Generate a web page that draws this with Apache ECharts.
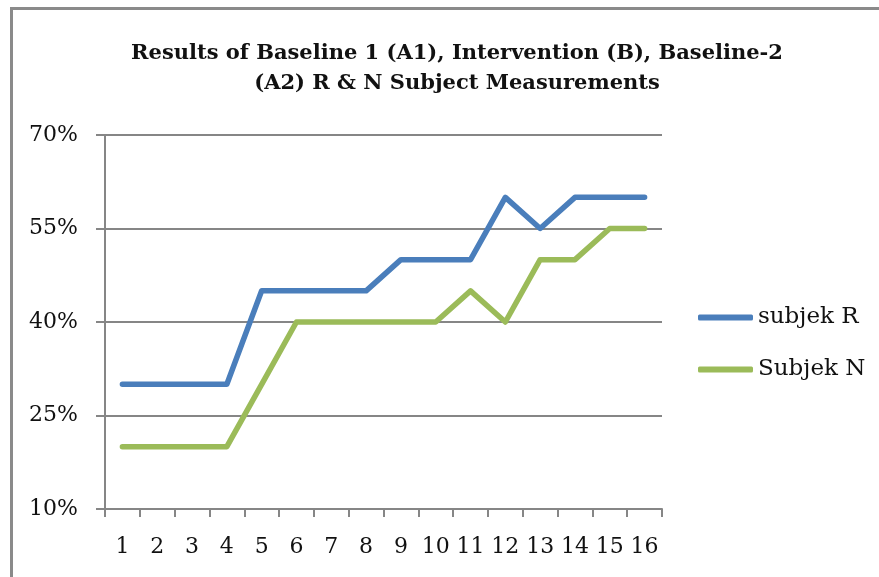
<!DOCTYPE html>
<html>
<head>
<meta charset="utf-8">
<script src="https://cdn.jsdelivr.net/npm/echarts@6/dist/echarts.min.js"></script>
<style>
  html, body { margin: 0; padding: 0; background: #fff; }
  #chart { width: 879px; height: 577px; }
</style>
</head>
<body>
<div id="chart"></div>
<script>
const titleText = 'Results of Baseline 1 (A1), Intervention (B), Baseline-2\n(A2) R & N Subject Measurements';
const categories = ['1','2','3','4','5','6','7','8','9','10','11','12','13','14','15','16'];
const seriesNames = ['subjek R', 'Subjek N'];
const subjekR = [30,30,30,30,45,45,45,45,50,50,50,60,55,60,60,60];
const subjekN = [20,20,20,20,30,40,40,40,40,40,45,40,50,50,55,55];
const yTicks = [10, 25, 40, 55, 70];

const FONT = 'DejaVu Serif';
const chart = echarts.init(document.getElementById('chart'), null, { renderer: 'canvas' });
chart.setOption({
  animation: false,
  backgroundColor: '#fff',
  graphic: [{
    type: 'rect',
    shape: { x: 11.5, y: 8.5, width: 900, height: 600 },
    style: { fill: 'none', stroke: '#8a8a8a', lineWidth: 3 },
    silent: true
  }],
  title: {
    text: titleText,
    left: 452,
    textAlign: 'center',
    top: 34,
    textStyle: { fontFamily: FONT, fontWeight: 'bold', fontSize: 21, lineHeight: 30, color: '#111' }
  },
  legend: {
    orient: 'vertical',
    left: 693,
    top: 301,
    itemWidth: 55,
    itemHeight: 6,
    itemGap: 29,
    icon: 'roundRect',
    textStyle: { fontFamily: FONT, fontSize: 23, color: '#111' },
    data: seriesNames
  },
  grid: { left: 105, right: 217, top: 135, bottom: 68, containLabel: false },
  xAxis: {
    type: 'category',
    data: categories,
    boundaryGap: true,
    axisLine: { lineStyle: { color: '#868686', width: 2 } },
    axisTick: { show: true, length: 8, lineStyle: { color: '#868686', width: 2 } },
    axisLabel: { margin: 27, fontFamily: FONT, fontSize: 22, color: '#111', interval: 0 },
    splitLine: { show: false }
  },
  yAxis: {
    type: 'value',
    min: yTicks[0],
    max: yTicks[yTicks.length - 1],
    interval: 15,
    axisLine: { show: true, lineStyle: { color: '#868686', width: 2 } },
    axisTick: { show: true, length: 9, lineStyle: { color: '#868686', width: 2 } },
    axisLabel: { margin: 27, fontFamily: FONT, fontSize: 22, color: '#111', formatter: v => v + '%' },
    splitLine: { show: true, lineStyle: { color: '#868686', width: 2 } }
  },
  series: [
    { name: seriesNames[0], type: 'line', data: subjekR, symbol: 'none', color: '#4A7EBB',
      lineStyle: { width: 5.5, color: '#4A7EBB', cap: 'round', join: 'round' } },
    { name: seriesNames[1], type: 'line', data: subjekN, symbol: 'none', color: '#9BBB59',
      lineStyle: { width: 5.5, color: '#9BBB59', cap: 'round', join: 'round' } }
  ]
});
</script>
</body>
</html>
